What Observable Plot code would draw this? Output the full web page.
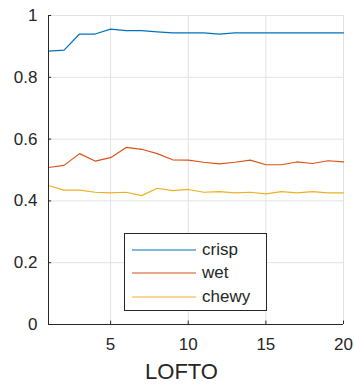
<!DOCTYPE html>
<html>
<head>
<meta charset="utf-8">
<script src="https://cdn.jsdelivr.net/npm/d3@7"></script>
<script src="https://cdn.jsdelivr.net/npm/@observablehq/plot@0.6"></script>
<style>
  html, body { margin: 0; padding: 0; background: #fff; }
  #wrap { position: relative; width: 354px; height: 384px; font-family: "Liberation Sans", Arial, sans-serif; }
  #legend { position: absolute; left: 124px; top: 233px; width: 141px; height: 76px; border: 1px solid #262626; background: #fff; }
  .item { position: absolute; left: 0; height: 20px; display: flex; align-items: center; font-size: 17px; color: #262626; }
  .item svg { margin-left: 7px; margin-right: 6px; }
</style>
</head>
<body>
<div id="wrap"></div>
<script>
const lofto = [1,2,3,4,5,6,7,8,9,10,11,12,13,14,15,16,17,18,19,20];
const crisp = [0.885,0.888,0.940,0.940,0.956,0.951,0.951,0.947,0.944,0.944,0.944,0.940,0.944,0.944,0.944,0.944,0.944,0.944,0.944,0.944];
const wet   = [0.508,0.515,0.553,0.529,0.540,0.573,0.567,0.553,0.533,0.532,0.525,0.520,0.525,0.532,0.517,0.517,0.526,0.521,0.530,0.526];
const chewy = [0.450,0.435,0.435,0.428,0.426,0.428,0.417,0.441,0.433,0.437,0.428,0.430,0.426,0.428,0.423,0.430,0.426,0.430,0.426,0.426];
const seriesNames = ["crisp","wet","chewy"];
const seriesColors = ["#0072BD","#D95319","#EDB120"];
const xTicks = [5,10,15,20];
const yTicks = [0,0.2,0.4,0.6,0.8,1];
const yTickLabels = ["0","0.2","0.4","0.6","0.8","1"];
const xLabel = "LOFTO";

const seriesValues = [crisp, wet, chewy];
const rows = [];
seriesNames.forEach((name, s) => {
  lofto.forEach((x, i) => rows.push({series: name, x, y: seriesValues[s][i]}));
});

const axisColor = "#262626";
const gridColor = "#e2e2e2";

const chart = Plot.plot({
  width: 354,
  height: 384,
  marginLeft: 48,
  marginRight: 11,
  marginTop: 15,
  marginBottom: 60,
  style: {fontFamily: "'Liberation Sans', Arial, sans-serif", fontSize: "17px", color: axisColor, background: "#fff"},
  x: {domain: [1, 20]},
  y: {domain: [0, 1]},
  color: {domain: seriesNames, range: seriesColors},
  marks: [
    Plot.gridX(xTicks, {stroke: gridColor, strokeOpacity: 1}),
    Plot.gridY(yTicks.filter(d => d > 0), {stroke: gridColor, strokeOpacity: 1}),
    Plot.line(rows, {x: "x", y: "y", z: "series", stroke: "series", strokeWidth: 1.2}),
    Plot.ruleX([1], {stroke: axisColor, strokeWidth: 1}),
    Plot.ruleY([0], {stroke: axisColor, strokeWidth: 1}),
    Plot.ruleX(xTicks, {y1: 0, y2: 0.011, stroke: axisColor}),
    Plot.ruleY(yTicks, {x1: 1, x2: 1.2, stroke: axisColor}),
    Plot.axisX(xTicks, {tickSize: 0, tickPadding: 13, fontSize: 17, label: null, fill: axisColor}),
    Plot.axisY(yTicks, {tickSize: 0, tickPadding: 11, fontSize: 17, label: null, fill: axisColor, tickFormat: (d) => yTickLabels[yTicks.indexOf(d)]}),
    Plot.text([xLabel], {frameAnchor: "bottom", dy: 47, dx: -14.5, fontSize: 22, fill: axisColor, lineAnchor: "middle"})
  ]
});

const wrap = document.getElementById("wrap");
wrap.appendChild(chart);

const legend = document.createElement("div");
legend.id = "legend";
seriesNames.forEach((name, i) => {
  const item = document.createElement("div");
  item.className = "item";
  item.style.top = (6 + i * 23.3) + "px";
  item.innerHTML = `<svg width="64" height="4"><line x1="0" x2="64" y1="2" y2="2" stroke="${seriesColors[i]}" stroke-width="1.2"/></svg><span>${name}</span>`;
  legend.appendChild(item);
});
wrap.appendChild(legend);
</script>
</body>
</html>
